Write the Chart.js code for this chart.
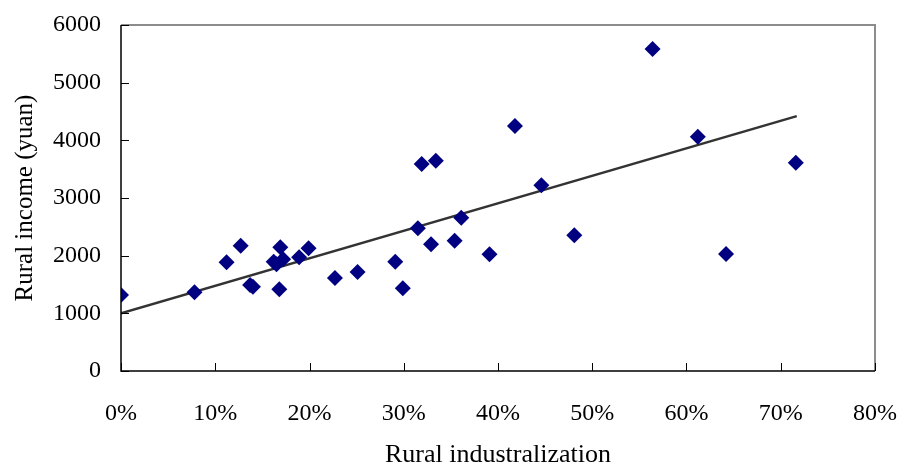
<!DOCTYPE html>
<html>
<head>
<meta charset="utf-8">
<script src="https://cdn.jsdelivr.net/npm/chart.js@4/dist/chart.umd.min.js"></script>
<style>
    html, body { margin: 0; padding: 0; background: #fff; }
    #wrap { width: 902px; height: 466px; }
</style>
</head>
<body>
<div id="wrap"><canvas id="scatterChart" width="902" height="466"></canvas></div>
<script>
// industrialization share (fraction) and rural income (yuan)
const industrialization = [0.000, 0.078, 0.112, 0.127, 0.137, 0.140, 0.168, 0.169, 0.162, 0.165,
    0.172, 0.189, 0.199, 0.227, 0.251, 0.291, 0.299, 0.315, 0.319, 0.329,
    0.334, 0.354, 0.361, 0.391, 0.418, 0.446, 0.481, 0.564, 0.612, 0.642, 0.716];
const income = [1320, 1365, 1885, 2173, 1491, 1462, 1417, 2145, 1895, 1850,
    1937, 1972, 2128, 1613, 1717, 1895, 1434, 2474, 3589, 2197,
    3647, 2259, 2658, 2024, 4248, 3222, 2353, 5583, 4063, 2029, 3612];

// linear trend line end points
const trendX = [0.000, 0.717];
const trendY = [1000, 4420];

const xTicks = [0, 0.1, 0.2, 0.3, 0.4, 0.5, 0.6, 0.7, 0.8];
const yTicks = [0, 1000, 2000, 3000, 4000, 5000, 6000];

const serif = "'Liberation Serif', 'Times New Roman', serif";

// frame: black left/bottom, grey top/right, ticks pointing inward
const framePlugin = {
    id: 'frame',
    afterDatasetsDraw(chart) {
        const { ctx, chartArea: a, scales } = chart;
        ctx.save();
        ctx.lineWidth = 2;
        ctx.strokeStyle = '#8c8c8c';
        ctx.beginPath();
        ctx.moveTo(a.left, a.top); ctx.lineTo(a.right, a.top); ctx.lineTo(a.right, a.bottom);
        ctx.stroke();
        ctx.strokeStyle = '#000';
        ctx.lineWidth = 1.5;
        ctx.beginPath();
        ctx.moveTo(a.left, a.top); ctx.lineTo(a.left, a.bottom); ctx.lineTo(a.right, a.bottom);
        ctx.stroke();
        ctx.lineWidth = 1;
        ctx.beginPath();
        xTicks.forEach(v => {
            const px = Math.round(scales.x.getPixelForValue(v)) + 0.5;
            ctx.moveTo(px, a.bottom); ctx.lineTo(px, a.bottom - 8);
        });
        yTicks.forEach(v => {
            const py = Math.round(scales.y.getPixelForValue(v)) + 0.5;
            ctx.moveTo(a.left, py); ctx.lineTo(a.left + 8, py);
        });
        ctx.stroke();
        ctx.restore();
    }
};

const points = industrialization.map((x, i) => ({ x: x, y: income[i] }));
const trend = trendX.map((x, i) => ({ x: x, y: trendY[i] }));

new Chart(document.getElementById('scatterChart').getContext('2d'), {
    type: 'scatter',
    data: {
        datasets: [
            {
                label: 'Trend',
                data: trend,
                showLine: true,
                borderColor: '#333333',
                borderWidth: 2.5,
                pointRadius: 0,
                order: 2
            },
            {
                label: 'Provinces',
                data: points,
                pointStyle: 'rectRot',
                pointRadius: 8,
                pointHoverRadius: 8,
                backgroundColor: '#000080',
                borderColor: '#000080',
                borderWidth: 0,
                order: 1
            }
        ]
    },
    options: {
        responsive: false,
        animation: false,
        layout: { padding: { top: 25, right: 27, left: 0, bottom: 0 } },
        plugins: { legend: { display: false }, tooltip: { enabled: false } },
        scales: {
            x: {
                type: 'linear',
                min: 0,
                max: 0.8,
                afterBuildTicks: s => { s.ticks = xTicks.map(v => ({ value: v })); },
                afterFit: s => { s.height = 95; s.paddingLeft = 0; s.paddingRight = 0; },
                grid: { display: false, drawTicks: false },
                border: { display: false },
                ticks: {
                    padding: 28,
                    color: '#000',
                    font: { family: serif, size: 24 },
                    maxRotation: 0,
                    callback: v => Math.round(v * 100) + '%'
                },
                title: {
                    display: true,
                    text: 'Rural industralization',
                    color: '#000',
                    font: { family: serif, size: 26 },
                    padding: { top: 0, bottom: -5 }
                }
            },
            y: {
                min: 0,
                max: 6000,
                afterBuildTicks: s => { s.ticks = yTicks.map(v => ({ value: v })); },
                afterFit: s => { s.width = 121; s.paddingTop = 0; s.paddingBottom = 0; },
                grid: { display: false, drawTicks: false },
                border: { display: false },
                ticks: {
                    padding: 20,
                    color: '#000',
                    font: { family: serif, size: 24 },
                    callback: v => String(v)
                },
                title: {
                    display: true,
                    text: 'Rural income (yuan)',
                    color: '#000',
                    font: { family: serif, size: 25 },
                    padding: { top: 10, bottom: 0 }
                }
            }
        }
    },
    plugins: [framePlugin]
});
</script>
</body>
</html>
